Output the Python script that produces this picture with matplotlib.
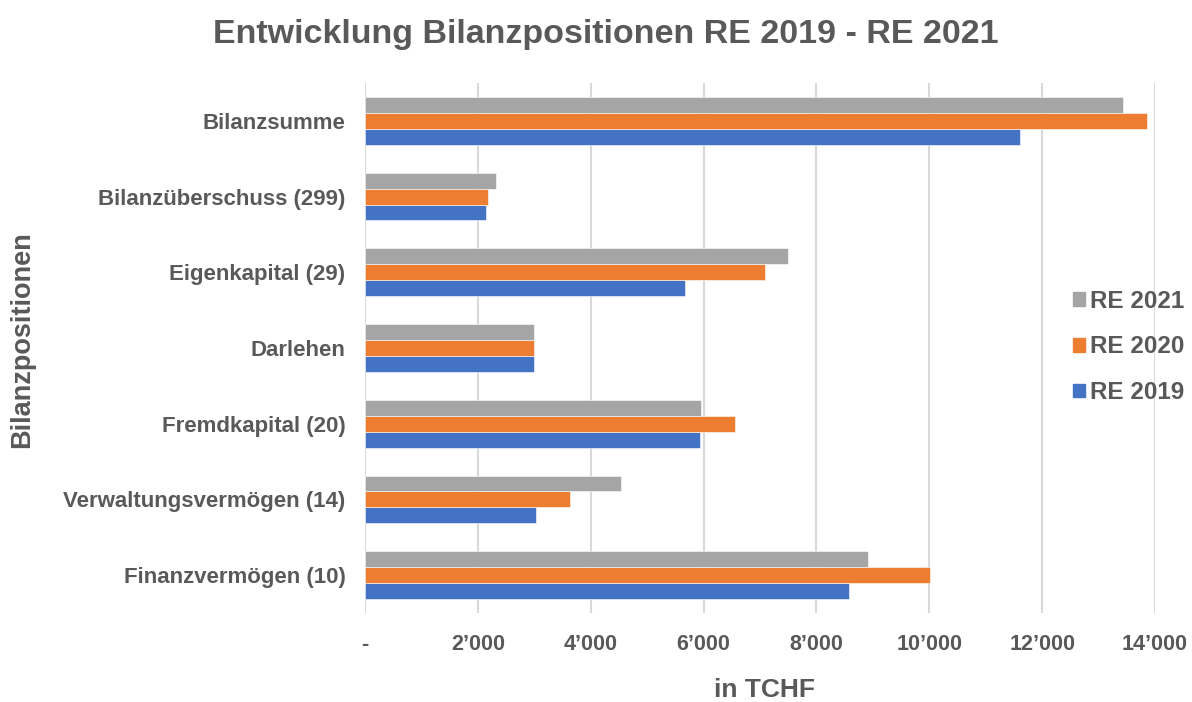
import numpy as np
import matplotlib
matplotlib.use('Agg')
import matplotlib.pyplot as plt
from matplotlib.ticker import FuncFormatter
from matplotlib.patches import Patch

# data (TCHF), bottom to top
positionen = ['Finanzvermögen (10)', 'Verwaltungsvermögen (14)', 'Fremdkapital (20)',
              'Darlehen', 'Eigenkapital (29)', 'Bilanzüberschuss (299)', 'Bilanzsumme']
re2019 = [8576, 3024, 5932, 3000, 5667, 2148, 11612]
re2020 = [10020, 3627, 6556, 3000, 7086, 2171, 13857]
re2021 = [8922, 4529, 5946, 3000, 7499, 2313, 13438]

txt = '#595959'
c19 = '#4472C4'
c20 = '#ED7D31'
c21 = '#A5A5A5'

plt.rcParams['font.family'] = ['Liberation Sans', 'DejaVu Sans']
plt.rcParams['font.weight'] = 'bold'

fig = plt.figure(figsize=(11.92, 7.02), dpi=100)
ax = fig.add_axes([0.3062, 0.1268, 0.969 - 0.3062, 0.8818 - 0.1268])

y = np.arange(len(positionen))
h = 0.21
ax.barh(y - h, re2019, height=h, color=c19, edgecolor='white', linewidth=0.4, zorder=3)
ax.barh(y, re2020, height=h, color=c20, edgecolor='white', linewidth=0.4, zorder=3)
ax.barh(y + h, re2021, height=h, color=c21, edgecolor='white', linewidth=0.4, zorder=3)

ax.set_xlim(0, 14000)
ax.set_ylim(-0.5, len(positionen) - 0.5)
ax.set_xticks(range(0, 14001, 2000))
ax.xaxis.set_major_formatter(FuncFormatter(lambda v, p: '-' if v == 0 else '{:,.0f}'.format(v).replace(',', '\u2019')))
ax.set_yticks(y)
ax.set_yticklabels(positionen)

ax.grid(axis='x', color='#d9d9d9', linewidth=1.5, zorder=0)
for s in ax.spines.values():
    s.set_visible(False)
ax.tick_params(axis='both', length=0, labelcolor=txt)
ax.tick_params(axis='y', pad=14, labelsize=16)
ax.tick_params(axis='x', pad=15, labelsize=15.5)

fig.text(0.641, 0.017, 'in TCHF', fontsize=19, color=txt, fontweight='bold',
         ha='center', va='center')
fig.text(0.0185, 0.5157, 'Bilanzpositionen', rotation=90, fontsize=19.5, color=txt,
         fontweight='bold', va='center', ha='center')

fig.text(0.508, 1 - 43 / 702, 'Entwicklung Bilanzpositionen RE 2019 - RE 2021',
         fontsize=24.5, color=txt, fontweight='bold', ha='center', va='baseline')

handles = [Patch(color=c21, label='RE 2021'), Patch(color=c20, label='RE 2020'),
           Patch(color=c19, label='RE 2019')]
leg = fig.legend(handles=handles, loc='center left', bbox_to_anchor=(0.900, 0.5057),
                 frameon=False, fontsize=17.5, labelspacing=0.93, handlelength=0.5,
                 handleheight=0.5, handletextpad=0.2, borderpad=0, borderaxespad=0)
for t in leg.get_texts():
    t.set_color(txt)

fig.savefig('out.png', dpi=100)
